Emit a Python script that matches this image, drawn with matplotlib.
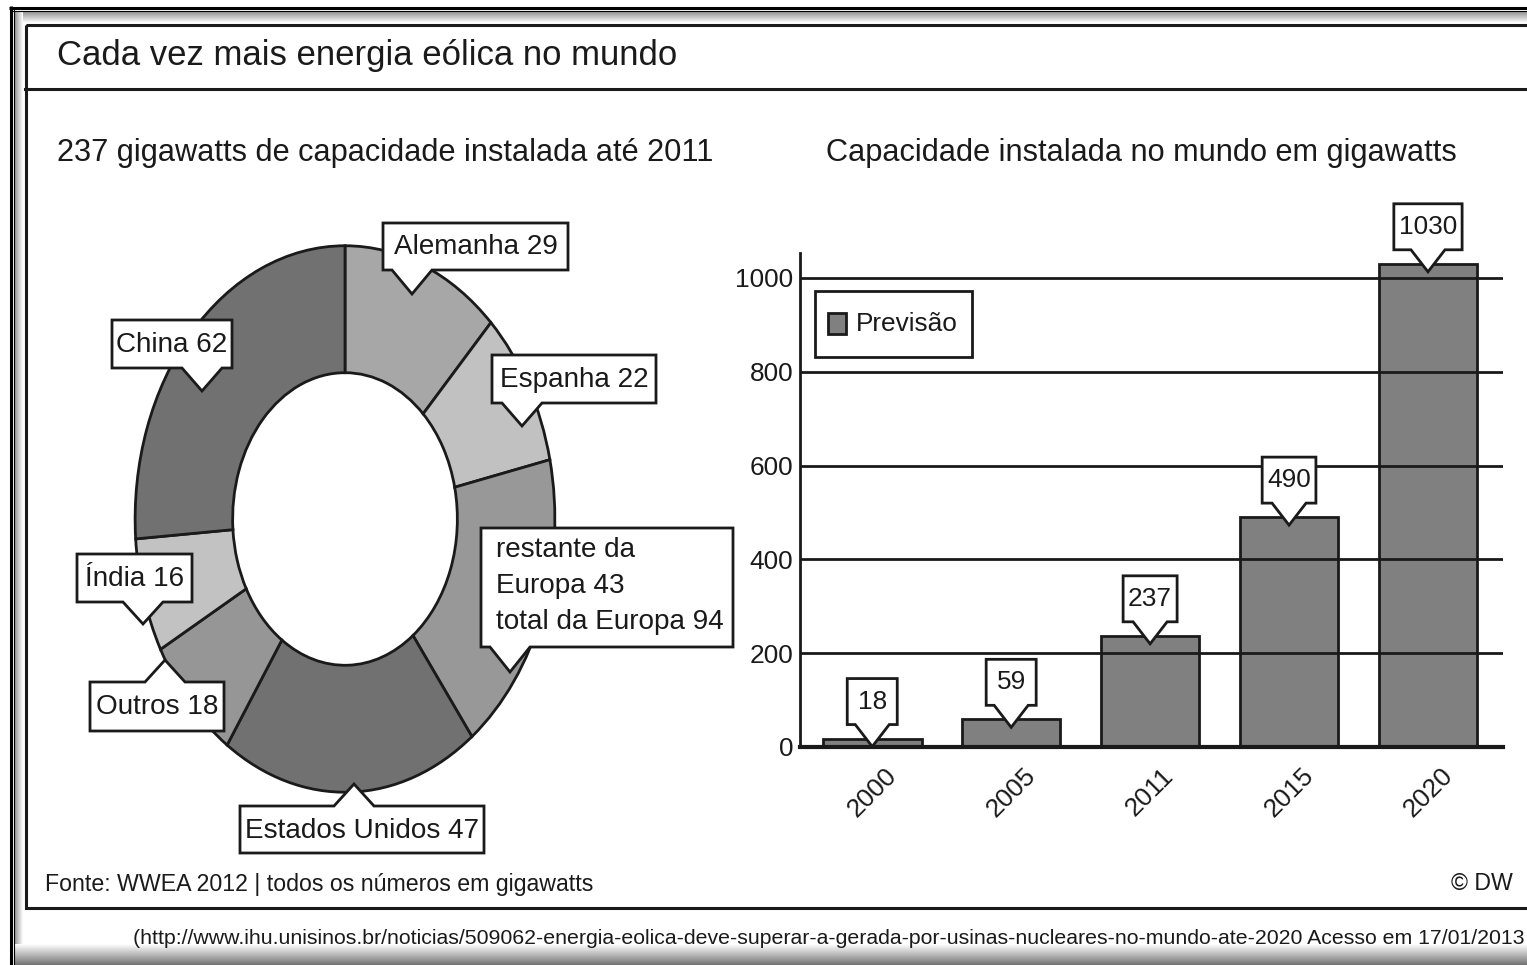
import numpy as np
import matplotlib
matplotlib.use('Agg')
import matplotlib.pyplot as plt
from matplotlib import font_manager as fm
from matplotlib.patches import Polygon, Rectangle

# --- data -------------------------------------------------------------
share_names = ['Alemanha', 'Espanha', 'restante da Europa', 'Estados Unidos',
               'Outros', 'Índia', 'China']
share_values = [29, 22, 43, 47, 18, 16, 62]
europe_names = ['Alemanha', 'Espanha', 'restante da Europa']

years = ['2000', '2005', '2011', '2015', '2020']
capacity = [18, 59, 237, 490, 1030]
y_ticks = [0, 200, 400, 600, 800, 1000]
legend_label = 'Previsão'

# --- style ------------------------------------------------------------
W, H = 1527, 965
INK = '#1a1a1a'
share_colors = ['#a7a7a7', '#c1c1c1', '#989898', '#717171', '#969696', '#c2c2c2', '#717171']
BAR_COLOR = '#808080'

names = {f.name for f in fm.fontManager.ttflist}
if 'Liberation Sans Narrow' in names:
    FONT, K = 'Liberation Sans Narrow', 1.0
else:
    FONT, K = 'Liberation Sans', 0.82
plt.rcParams['font.family'] = [FONT, 'DejaVu Sans']

fig = plt.figure(figsize=(W / 100, H / 100), dpi=100)
fig.patch.set_facecolor('white')

# overlay in pixel coordinates for the frame, titles and callouts
ov = fig.add_axes([0, 0, 1, 1])
ov.set_zorder(5)
ov.patch.set_visible(False)
ov.axis('off')


def gradient(x0, x1, y0, y1, a, b, horizontal=False):
    g = np.linspace(a, b, 64)
    arr = g[None, :] if horizontal else g[:, None]
    ov.imshow(arr, cmap='gray', vmin=0, vmax=1, extent=(x0, x1, y1, y0),
              aspect='auto', interpolation='bilinear', zorder=0)


gradient(14, W, 11, 23, 0.55, 1.0)
gradient(14, 23, 11, H, 0.55, 1.0, horizontal=True)
gradient(14, W, 944, H, 1.0, 0.45)
ov.set_xlim(0, W)
ov.set_ylim(H, 0)

ov.plot([10.5, 10.5], [6, H], color='black', lw=2.2, solid_capstyle='butt')
ov.plot([9, W], [7.5, 7.5], color='black', lw=2.2, solid_capstyle='butt')
ov.plot([13.5, 13.5], [10, H], color='black', lw=0.8)
ov.plot([13, W], [10.5, 10.5], color='black', lw=0.8)
ov.add_patch(Rectangle((25.5, 25), W, 883, fill=False, edgecolor=INK, lw=2.2, zorder=1))
ov.plot([25, W], [88.5, 88.5], color=INK, lw=2.2)

ov.text(57, 56, 'Cada vez mais energia eólica no mundo', fontsize=30.5 * K,
        color=INK, va='center', ha='left')
ov.text(57, 153, '237 gigawatts de capacidade instalada até 2011', fontsize=27 * K,
        color=INK, va='center', ha='left')
ov.text(826, 153, 'Capacidade instalada no mundo em gigawatts', fontsize=27 * K,
        color=INK, va='center', ha='left')
ov.text(45, 884, 'Fonte: WWEA 2012 | todos os números em gigawatts', fontsize=20.3 * K,
        color=INK, va='center', ha='left')
ov.text(1513, 884, '© DW', fontsize=20.3 * K, color=INK, va='center', ha='right')
ov.text(133, 938, '(http://www.ihu.unisinos.br/noticias/509062-energia-eolica-deve-superar-'
        'a-gerada-por-usinas-nucleares-no-mundo-ate-2020 Acesso em 17/01/2013',
        fontsize=18.7 * K, color=INK, va='center', ha='left')


def callout(box, tip, side, base):
    x0, y0, x1, y1 = box
    tx, ty = tip
    h = base / 2
    if side == 'bottom':
        pts = [(x0, y0), (x1, y0), (x1, y1), (tx + h, y1), (tx, ty), (tx - h, y1), (x0, y1)]
    else:
        pts = [(x0, y1), (x1, y1), (x1, y0), (tx + h, y0), (tx, ty), (tx - h, y0), (x0, y0)]
    ov.add_patch(Polygon(pts, closed=True, facecolor='white', edgecolor=INK,
                         linewidth=2.0, joinstyle='miter', zorder=2))


# --- donut ------------------------------------------------------------
cx, cy, rx, ry = 345, 519, 212, 276
axd = fig.add_axes([(cx - rx) / W, 1 - (cy + ry) / H, 2 * rx / W, 2 * ry / H])
axd.pie(share_values, colors=share_colors, startangle=90, counterclock=False,
        radius=0.99, wedgeprops=dict(width=0.46, edgecolor=INK, linewidth=2.0))
axd.set_aspect('auto')
axd.set_xlim(-1, 1)
axd.set_ylim(-1, 1)
axd.axis('off')

# callout placement (pixels): box, tail tip, side of the tail
pie_callouts = {
    'Alemanha': ((383, 223, 568, 270), (412, 294), 'bottom'),
    'Espanha': ((492, 355, 656, 403), (522, 426), 'bottom'),
    'restante da Europa': ((481, 528, 733, 647), (510, 672), 'bottom'),
    'Estados Unidos': ((240, 806, 484, 853), (354, 784), 'top'),
    'Outros': ((90, 682, 224, 731), (165, 660), 'top'),
    'Índia': ((77, 554, 192, 602), (143, 624), 'bottom'),
    'China': ((112, 320, 232, 368), (202, 391), 'bottom'),
}
europe_total = sum(v for n, v in zip(share_names, share_values) if n in europe_names)
for name, val in zip(share_names, share_values):
    box, tip, side = pie_callouts[name]
    callout(box, tip, side, 40)
    if name == 'restante da Europa':
        lines = ['restante da', f'Europa {val}', f'total da Europa {europe_total}']
        for k, line in enumerate(lines):
            ov.text(box[0] + 15, box[1] + 22 + 36 * k, line, fontsize=24.5 * K,
                    color=INK, va='center', ha='left', zorder=3)
    else:
        ov.text((box[0] + box[2]) / 2, (box[1] + box[3]) / 2 + 1, f'{name} {val}',
                fontsize=24.5 * K, color=INK, va='center', ha='center', zorder=3)

# --- bars -------------------------------------------------------------
axb = fig.add_axes([800 / W, 1 - 747 / H, 703 / W, 494 / H])
x = np.arange(len(years))
axb.bar(x, capacity, width=0.71, color=BAR_COLOR, edgecolor=INK, linewidth=2.0, zorder=1)
axb.set_xlim(-0.52, 4.54)
axb.set_ylim(0, 1053)
axb.set_axisbelow(False)
axb.set_yticks(y_ticks)
axb.set_xticks(x)
axb.set_xticklabels(years, rotation=45, ha='center', va='top')
axb.grid(axis='y', color=INK, linewidth=2.0)
axb.tick_params(axis='y', length=0, pad=5, labelsize=23 * K, labelcolor=INK)
axb.tick_params(axis='x', length=0, pad=12, labelsize=23 * K, labelcolor=INK)
for s in ['top', 'right']:
    axb.spines[s].set_visible(False)
axb.spines['left'].set_linewidth(2.0)
axb.spines['left'].set_color(INK)
axb.spines['bottom'].set_linewidth(3.0)
axb.spines['bottom'].set_color(INK)
axb.patch.set_visible(False)

# legend box (pixels)
ov.add_patch(Rectangle((815, 291), 157, 66, facecolor='white', edgecolor=INK, lw=2.0, zorder=2))
ov.add_patch(Rectangle((828, 313), 18, 21, facecolor=BAR_COLOR, edgecolor=INK, lw=2.0, zorder=3))
ov.text(856, 324, legend_label, fontsize=23 * K, color=INK, va='center', ha='left', zorder=3)

renderer = fig.canvas.get_renderer()
for i, v in enumerate(capacity):
    px, py = ov.transData.inverted().transform(axb.transData.transform((i, v)))
    py += 8
    t = ov.text(px, py - 22 - 23, str(v), ha='center', va='center',
                fontsize=23 * K, color=INK, zorder=3)
    hw = max(25, t.get_window_extent(renderer).width / 2 + 5)
    callout((px - hw, py - 68, px + hw, py - 22), (px, py), 'bottom', 34)

fig.savefig('out.png', dpi=100)
